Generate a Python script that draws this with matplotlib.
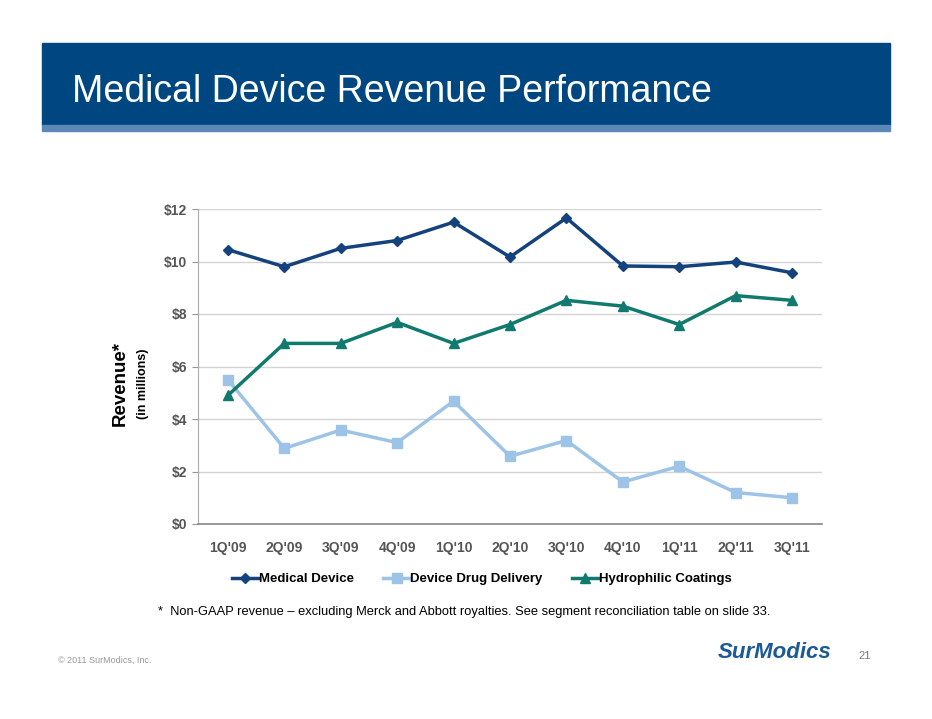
import numpy as np
import matplotlib.pyplot as plt
from matplotlib.patches import Rectangle

quarters = ["1Q'09", "2Q'09", "3Q'09", "4Q'09", "1Q'10", "2Q'10",
            "3Q'10", "4Q'10", "1Q'11", "2Q'11", "3Q'11"]
medical_device = [10.45, 9.8, 10.5, 10.8, 11.5, 10.17, 11.66, 9.83, 9.8, 9.98, 9.57]
drug_delivery = [5.5, 2.88, 3.58, 3.1, 4.68, 2.58, 3.18, 1.6, 2.2, 1.2, 1.0]
hydrophilic = [4.9, 6.88, 6.88, 7.68, 6.88, 7.6, 8.52, 8.3, 7.6, 8.7, 8.52]
yticks = [0, 2, 4, 6, 8, 10, 12]

plt.rcParams['font.family'] = ['Liberation Sans', 'DejaVu Sans']

fig = plt.figure(figsize=(9.32, 7.19), dpi=100)

# header banner
fig.patches.append(Rectangle((42/932, 1-125/719), 848/932, 82/719,
                             transform=fig.transFigure, color='#004680', zorder=0))
fig.patches.append(Rectangle((42/932, 1-131/719), 848/932, 6/719,
                             transform=fig.transFigure, color='#5C88B8', zorder=0))
fig.text(72/932, 1-92/719, "Medical Device Revenue Performance", color='white',
         fontsize=27, va='center', ha='left')

ax = fig.add_axes([198/932, 1-524/719, 624/932, 315/719])
x = np.arange(len(quarters))
ax.plot(x, medical_device, '-D', color='#14427C', lw=2.5, ms=5, label='Medical Device', zorder=3)
ax.plot(x, drug_delivery, '-s', color='#9DC3E6', lw=2.5, ms=7, label='Device Drug Delivery', zorder=3)
ax.plot(x, hydrophilic, '-^', color='#117A6E', lw=2.5, ms=7, label='Hydrophilic Coatings', zorder=3)

ax.set_xlim(-0.53, 10.53)
ax.set_ylim(0, 12)
ax.set_yticks(yticks)
ax.set_yticklabels(['$%d' % v for v in yticks], fontsize=10, color='#555555', fontweight='bold')
ax.set_xticks(x)
ax.set_xticklabels(quarters, fontsize=10, color='#555555', fontweight='bold')
ax.tick_params(axis='x', length=0, pad=12)
ax.tick_params(axis='y', length=4, color='#999999', pad=4)
ax.grid(axis='y', color='#d4d4d4', lw=1)
ax.set_axisbelow(True)
for s in ['top', 'right']:
    ax.spines[s].set_visible(False)
ax.spines['left'].set_color('#aaaaaa')
ax.spines['bottom'].set_color('#888888')
ax.spines['bottom'].set_linewidth(1.2)

fig.text(120/932, 1-384/719, "Revenue*", rotation=90, fontsize=13.5, fontweight='bold',
         ha='center', va='center')
fig.text(143/932, 1-384/719, "(in millions)", rotation=90, fontsize=9, fontweight='bold',
         ha='center', va='center')

leg = ax.legend(loc='upper center', bbox_to_anchor=(0.455, -0.118), ncol=3, frameon=False,
                handlelength=2.0, handletextpad=0.05, columnspacing=2.2,
                prop={'size': 9.5, 'weight': 'bold'})

fig.text(158/932, 1-612/719, "*  Non-GAAP revenue \u2013 excluding Merck and Abbott royalties. "
         "See segment reconciliation table on slide 33.", fontsize=9.25, va='center')
fig.text(58/932, 1-660/719, "\u00a9 2011 SurModics, Inc.", fontsize=6.5, color='#999999', va='center')
fig.text(718/932, 1-653/719, "SurModics", fontsize=16, fontweight='bold', style='italic',
         color='#1B5A96', va='center')
fig.text(858/932, 1-656/719, "21", fontsize=8, color='#777777', va='center')

plt.savefig('out.png', dpi=100)
